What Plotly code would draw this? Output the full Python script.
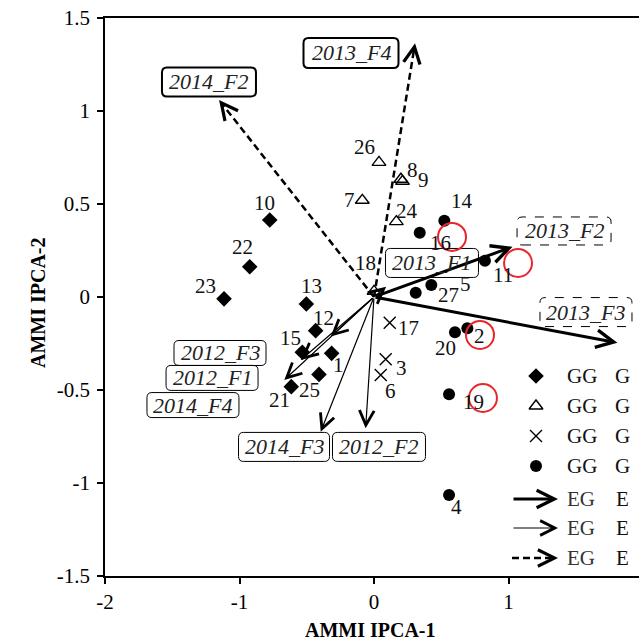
import plotly.graph_objects as go

# ---------------- data ----------------
# genotype groups (IPCA-1, IPCA-2 scores)
g1_ids = ["10", "22", "23", "13", "12", "15", "1", "25", "21"]
g1_x = [-0.775, -0.924, -1.115, -0.503, -0.434, -0.533, -0.315, -0.409, -0.615]
g1_y = [0.414, 0.163, -0.010, -0.038, -0.181, -0.297, -0.303, -0.416, -0.482]

g2_ids = ["26", "8", "9", "7", "24", "18"]
g2_x = [0.037, 0.200, 0.212, -0.087, 0.166, 0.000]
g2_y = [0.724, 0.633, 0.622, 0.520, 0.405, 0.030]

g3_ids = ["17", "3", "6"]
g3_x = [0.117, 0.087, 0.050]
g3_y = [-0.138, -0.335, -0.419]

g4_ids = ["14", "16", "11", "5", "27", "20", "2", "19", "4"]
g4_x = [0.523, 0.340, 0.825, 0.426, 0.310, 0.602, 0.694, 0.558, 0.558]
g4_y = [0.410, 0.346, 0.195, 0.065, 0.023, -0.190, -0.168, -0.523, -1.065]

# environment vectors
env_thick = ["2013_F2", "2013_F3"]
env_thick_x = [1.03, 1.81]
env_thick_y = [0.27, -0.246]

env_thin = ["2013_F1", "2012_F3", "2012_F1", "2014_F4", "2014_F3", "2012_F2"]
env_thin_x = [0.09, -0.545, -0.667, -0.322, -0.396, -0.062]
env_thin_y = [0.055, -0.339, -0.446, -0.213, -0.724, -0.706]

env_dash = ["2013_F4", "2014_F2"]
env_dash_x = [0.305, -1.152]
env_dash_y = [1.364, 1.059]

# environment label boxes (centre in axis units)
box_names = ["2014_F2", "2013_F4", "2013_F2", "2013_F3", "2013_F1",
             "2012_F3", "2012_F1", "2014_F4", "2014_F3", "2012_F2"]
box_x = [-1.227, -0.171, 1.413, 1.576, 0.431, -1.145, -1.204, -1.346, -0.669, 0.037]
box_y = [1.156, 1.312, 0.355, -0.081, 0.183, -0.301, -0.435, -0.581, -0.806, -0.806]

# highlighted (red circle) positions
hl_x = [0.58, 1.071, 0.788, 0.81]
hl_y = [0.323, 0.183, -0.204, -0.543]

x_ticks = [-2, -1, 0, 1]
x_tick_text = ["-2", "-1", "0", "1"]
y_ticks = [-1.5, -1, -0.5, 0, 0.5, 1, 1.5]
y_tick_text = ["-1.5", "-1", "-0.5", "0", "0.5", "1", "1.5"]

legend_g = ["GG", "GG", "GG", "GG"]
legend_e = ["EG", "EG", "EG"]

# ---------------- styling ----------------
FONT = "Liberation Serif"
W, H = 639, 642
ML, MR, MT, MB = 105, 0, 18, 66
PW, PH = W - ML - MR, H - MT - MB

def px2paper(px, py):
    """pixel -> plot-area fraction"""
    return (px - ML) / PW, (H - MB - py) / PH

# label pixel offsets (dx right, dy down)
lab_off = {
    "10": (-5, -17), "22": (-7, -20), "23": (-19, -13), "13": (5, -18),
    "12": (8, -13), "15": (-12, -14), "1": (7, 12), "25": (-9, 16), "21": (-12, 13),
    "26": (-14, -15), "8": (12, -9), "9": (21, -1), "7": (-13, 0), "24": (11, -11),
    "18": (-9, -28),
    "17": (19, 5), "3": (16, 9), "6": (10, 16),
    "14": (18, -20), "16": (21, 10), "11": (18, 14), "5": (34, -1), "27": (33, 2),
    "20": (-9, 16), "2": (12, 8), "19": (24, 8), "4": (7, 12),
}
box_style = {
    "2014_F2": (94, 29, "solid", 2.0), "2013_F4": (95, 30, "solid", 2.0),
    "2013_F2": (94, 28, "dash", 1.0), "2013_F3": (92, 29, "dash", 1.0),
    "2013_F1": (93, 29, "solid", 1.0), "2012_F3": (92, 25, "solid", 1.0),
    "2012_F1": (92, 25, "solid", 1.0), "2014_F4": (92, 25, "solid", 1.0),
    "2014_F3": (91, 29, "solid", 1.0), "2012_F2": (93, 29, "solid", 1.0),
}

fig = go.Figure()

marker_groups = [
    (g1_x, g1_y, dict(symbol="diamond", size=12, color="black")),
    (g2_x, g2_y, dict(symbol="triangle-up-open", size=12, color="black", line=dict(width=1.4))),
    (g3_x, g3_y, dict(symbol="x-thin-open", size=12, color="black", line=dict(width=1.4))),
    (g4_x, g4_y, dict(symbol="circle", size=12, color="black")),
]
for gx, gy, mk in marker_groups:
    fig.add_trace(go.Scatter(x=gx, y=gy, mode="markers", marker=mk,
                             showlegend=False, hoverinfo="skip"))

annotations = []

def text_ann(**kw):
    d = dict(showarrow=False, xanchor="center", yanchor="middle")
    d.update(kw)
    annotations.append(d)

# point labels
for ids, xs, ys in [(g1_ids, g1_x, g1_y), (g2_ids, g2_x, g2_y),
                    (g3_ids, g3_x, g3_y), (g4_ids, g4_x, g4_y)]:
    for i, xv, yv in zip(ids, xs, ys):
        dx, dy = lab_off[i]
        text_ann(x=xv, y=yv, xref="x", yref="y", text=i, xshift=dx, yshift=-dy,
                 font=dict(family=FONT, size=21, color="#111"))

# solid arrows
for xs, ys, lw, asz in [(env_thick_x, env_thick_y, 3.0, 1.15),
                        (env_thin_x, env_thin_y, 1.2, 2.4)]:
    for xv, yv in zip(xs, ys):
        annotations.append(dict(x=xv, y=yv, xref="x", yref="y", ax=0, ay=0,
                                axref="x", ayref="y", text="", showarrow=True,
                                arrowhead=5, arrowsize=asz, arrowwidth=lw,
                                arrowcolor="black", standoff=0, startstandoff=0))

# dashed arrows: shaft + head
for xv, yv in zip(env_dash_x, env_dash_y):
    fig.add_trace(go.Scatter(x=[0, xv * 0.985], y=[0, yv * 0.985], mode="lines",
                             line=dict(color="black", width=2.5, dash="7px,4px"),
                             showlegend=False, hoverinfo="skip"))
    annotations.append(dict(x=xv, y=yv, xref="x", yref="y", ax=xv * 0.96, ay=yv * 0.96,
                            axref="x", ayref="y", text="", showarrow=True,
                            arrowhead=5, arrowsize=1.3, arrowwidth=2.5,
                            arrowcolor="black", standoff=0))

shapes = []

def rrect(w, h, r=5):
    a, b = w / 2, h / 2
    return (f"M{-a + r},{-b} L{a - r},{-b} Q{a},{-b} {a},{-b + r} L{a},{b - r} "
            f"Q{a},{b} {a - r},{b} L{-a + r},{b} Q{-a},{b} {-a},{b - r} "
            f"L{-a},{-b + r} Q{-a},{-b} {-a + r},{-b} Z")

# label boxes
for name, bx, by in zip(box_names, box_x, box_y):
    w, h, dash, bw = box_style[name]
    shapes.append(dict(type="path", xref="x", yref="y", xsizemode="pixel", ysizemode="pixel",
                       xanchor=bx, yanchor=by, path=rrect(w, h),
                       line=dict(color="black", width=bw, dash=dash)))
    text_ann(x=bx, y=by, xref="x", yref="y", text=f"<i>{name}</i>",
             font=dict(family=FONT, size=22, color="#222"))

# red circles
for hx, hy in zip(hl_x, hl_y):
    shapes.append(dict(type="circle", xref="x", yref="y", xsizemode="pixel", ysizemode="pixel",
                       xanchor=hx, yanchor=hy, x0=-14, x1=14, y0=-14, y1=14,
                       line=dict(color="#e8262b", width=2)))

# ---------------- legend (drawn in plot-fraction space) ----------------
leg_rows_g = [376, 406, 436, 466]
leg_rows_e = [499, 528, 558]
leg_syms = [dict(symbol="diamond", size=12, color="black"),
            dict(symbol="triangle-up-open", size=12, color="black", line=dict(width=1.4)),
            dict(symbol="x-thin-open", size=12, color="black", line=dict(width=1.4)),
            dict(symbol="circle", size=12, color="black")]
for row, mk, txt in zip(leg_rows_g, leg_syms, legend_g):
    px_, py_ = px2paper(536, row)
    fig.add_trace(go.Scatter(x=[px_], y=[py_], xaxis="x2", yaxis="y2", mode="markers",
                             marker=mk, showlegend=False, hoverinfo="skip"))
    tx, ty = px2paper(582, row)
    text_ann(x=tx, y=ty, xref="paper", yref="paper", text=txt,
             font=dict(family=FONT, size=21, color="#111"))
    tx2, _ = px2paper(622, row)
    text_ann(x=tx2, y=ty, xref="paper", yref="paper", text="G",
             font=dict(family=FONT, size=21, color="#111"))

for k, (row, txt) in enumerate(zip(leg_rows_e, legend_e)):
    tipx, tipy = px2paper(558, row)
    if k < 2:
        annotations.append(dict(x=tipx, y=tipy, xref="paper", yref="paper", ax=-46, ay=0,
                                text="", showarrow=True, arrowhead=5,
                                arrowsize=1.15 if k == 0 else 2.4,
                                arrowwidth=3.0 if k == 0 else 1.2,
                                arrowcolor="black", standoff=0))
    else:
        x0p, _ = px2paper(512, row)
        x1p, _ = px2paper(552, row)
        shapes.append(dict(type="line", xref="paper", yref="paper", x0=x0p, x1=x1p,
                           y0=tipy, y1=tipy, line=dict(color="black", width=2.5, dash="7px,4px")))
        annotations.append(dict(x=tipx, y=tipy, xref="paper", yref="paper", ax=-8, ay=0,
                                text="", showarrow=True, arrowhead=5, arrowsize=1.3,
                                arrowwidth=2.5, arrowcolor="black", standoff=0))
    tx, ty = px2paper(581, row)
    text_ann(x=tx, y=ty, xref="paper", yref="paper", text=txt,
             font=dict(family=FONT, size=21, color="#333"))
    tx2, _ = px2paper(622, row)
    text_ann(x=tx2, y=ty, xref="paper", yref="paper", text="E",
             font=dict(family=FONT, size=21, color="#111"))

# axis titles
text_ann(x=px2paper(370, 0)[0], y=px2paper(0, 630)[1], xref="paper", yref="paper",
         text="<b>AMMI IPCA-1</b>", font=dict(family=FONT, size=20, color="black"))
text_ann(x=px2paper(38, 0)[0], y=px2paper(0, 303)[1], xref="paper", yref="paper",
         text="<b>AMMI IPCA-2</b>", textangle=-90,
         font=dict(family=FONT, size=20, color="black"))

axis_common = dict(showgrid=False, zeroline=False, showline=True, linecolor="black",
                   linewidth=1.5, ticks="outside", ticklen=6, tickwidth=1.5, tickcolor="black",
                   tickfont=dict(family=FONT, size=21, color="black"), automargin=False,
                   ticklabeloverflow="allow")

fig.update_layout(
    width=W, height=H, margin=dict(l=ML, r=MR, t=MT, b=MB),
    paper_bgcolor="white", plot_bgcolor="white", showlegend=False,
    xaxis=dict(range=[-2, -2 + PW / 134.5], tickvals=x_ticks, ticktext=x_tick_text,
               mirror=True, **axis_common),
    yaxis=dict(range=[-1.5, 1.5], tickvals=y_ticks, ticktext=y_tick_text,
               ticklabelstandoff=3, **axis_common),
    xaxis2=dict(overlaying="x", range=[0, 1], visible=False),
    yaxis2=dict(overlaying="y", range=[0, 1], visible=False),
    annotations=annotations, shapes=shapes,
)

fig.write_html("out.html", config={"displayModeBar": False},
               post_script="document.body.style.margin='0';document.body.style.overflow='hidden';")
